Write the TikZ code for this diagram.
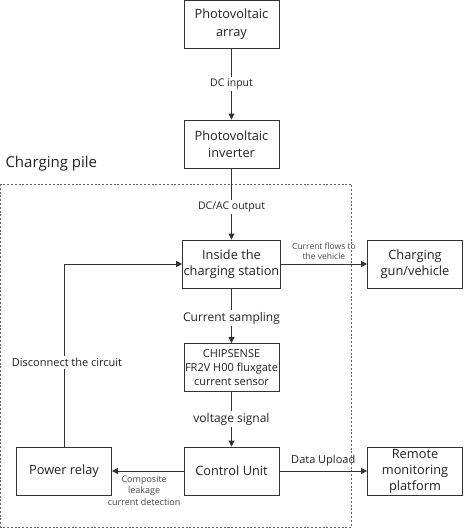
\documentclass[tikz,border=0pt]{standalone}
\usepackage{fontspec}
\setmainfont{Open Sans}
\usepackage{tikz}
\usetikzlibrary{calc,positioning,arrows.meta}
\definecolor{linegray}{HTML}{333333}
\definecolor{textmain}{HTML}{222222}
\definecolor{textsub}{HTML}{444444}
\definecolor{pilegray}{HTML}{666666}

\tikzset{
  block/.style={rectangle, draw=linegray, line width=0.9pt, fill=white, minimum width=95pt,
    minimum height=48pt, inner sep=1pt, align=center, text=textmain,
    font=\fontsize{12.8}{17}\selectfont},
  flow/.style={-{Triangle[length=6pt,width=6pt]}, line width=0.9pt, linegray},
  onwire/.style={fill=white, inner sep=2pt, text=textmain, font=\fontsize{10.5}{13}\selectfont},
  smalltag/.style={text=textsub, align=center, font=\fontsize{9}{11.5}\selectfont}
}

\begin{document}
\begin{tikzpicture}[x=1pt, y=-1pt]
  \useasboundingbox (0,0) rectangle (464,528);

  % Charging pile container
  \draw[pilegray, line width=0.8pt, dash pattern=on 2pt off 1.8pt] (0.5,184) rectangle (351.5,527);
  \node[anchor=west, text=textmain, font=\fontsize{15}{18}\selectfont] (pilelabel) at (2,164) {Charging pile};

  % Main column
  \node[block, font=\fontsize{12.8}{18}\selectfont] (array) at (231.5,24.5) {Photovoltaic\\array};
  \node[block] (inverter) at (231.5,144) {Photovoltaic\\inverter};
  \node[block, font=\fontsize{12.8}{16}\selectfont] (station) at (231.5,264) {Inside the\\charging station};
  \node[block, font=\fontsize{11}{14}\selectfont] (sensor) at (231.5,367.5) {CHIPSENSE\\FR2V H00 fluxgate\\current sensor};
  \node[block] (control) at (231.5,471) {Control Unit};

  % Side blocks
  \node[block] (relay) at (64,471) {Power relay};
  \node[block, font=\fontsize{12.8}{16}\selectfont] (gun) at (415,264) {Charging\\gun/vehicle};
  \node[block, font=\fontsize{12.8}{16}\selectfont] (remote) at (415,471) {Remote\\monitoring\\platform};

  % Arrows down the column
  \draw[flow] (array) -- (inverter) node[midway, onwire] {DC input};
  \draw[flow] (inverter) -- (station) node[pos=0.54, onwire] {DC/AC output};
  \draw[flow] (station) -- (sensor) node[pos=0.54, onwire, font=\fontsize{12}{14}\selectfont] {Current sampling};
  \draw[flow] (sensor) -- (control) node[midway, onwire, font=\fontsize{12}{14}\selectfont] {voltage signal};

  % Arrows to the sides
  \draw[flow] (station) -- (gun) node[midway, above=1pt, smalltag, font=\fontsize{8.5}{10}\selectfont] {Current flows to\\the vehicle};
  \draw[flow] (control) -- (remote) node[midway, above=1pt, text=textmain, font=\fontsize{11}{13}\selectfont] {Data Upload};
  \draw[flow] (control) -- (relay) node[pos=0.55, below=1pt, smalltag] {Composite\\leakage\\current detection};

  % Feedback loop
  \draw[flow] (relay.north) |- (station.west) node[pos=0.23, onwire, xshift=3pt, font=\fontsize{11}{13}\selectfont] {Disconnect the circuit};

\end{tikzpicture}
\end{document}
